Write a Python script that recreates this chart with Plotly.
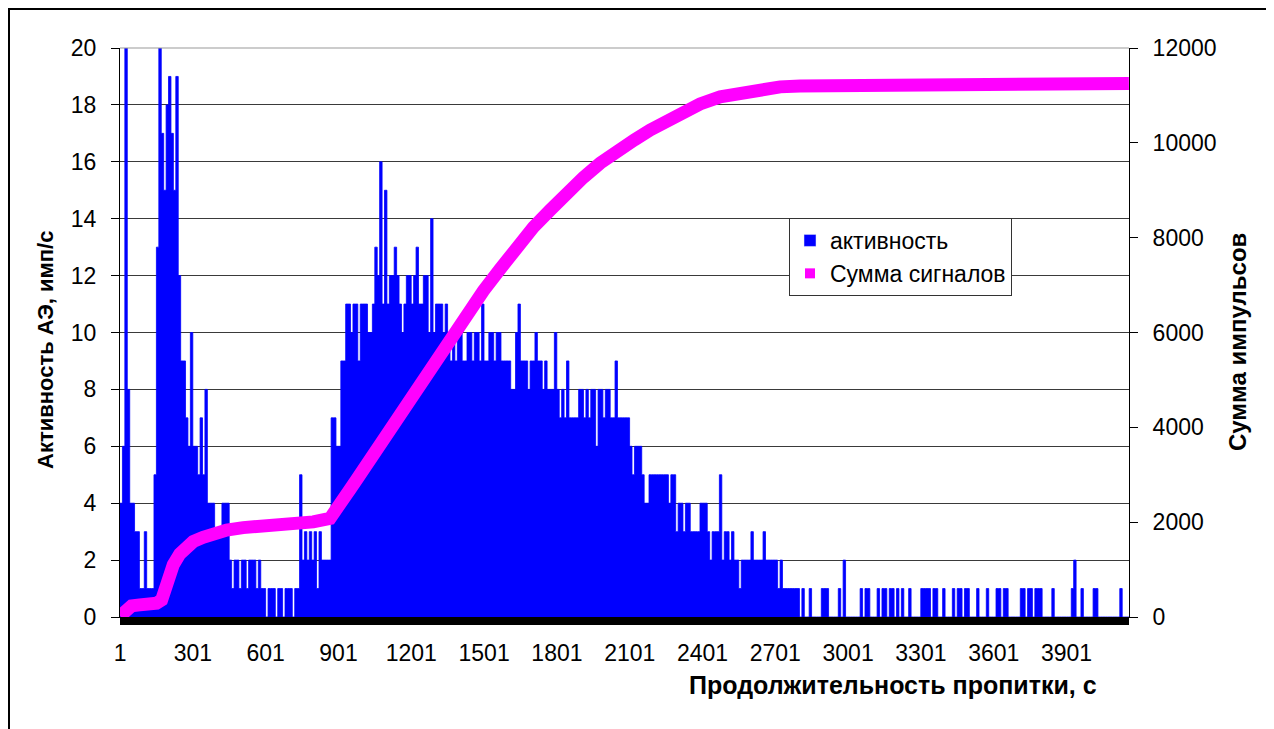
import plotly.graph_objects as go

# ---------------- data ----------------
# Activity (impulses per second): maximum value inside each 10-second bin,
# bins start at t = 1, 11, 21, ... (20 bins = 200 s per row)
activity_max = [
    4, 6, 20, 8, 4, 4, 3, 3, 1, 1, 3, 1, 1, 1, 5, 13, 20, 17, 15, 18,
    19, 17, 15, 19, 12, 9, 9, 7, 6, 10, 6, 6, 5, 7, 5, 8, 4, 4, 4, 3,
    3, 3, 4, 4, 4, 2, 1, 2, 2, 1, 2, 2, 1, 2, 2, 2, 1, 2, 1, 1,
    0, 1, 1, 1, 0, 1, 1, 0, 1, 1, 1, 0, 1, 1, 5, 2, 3, 2, 3, 2,
    3, 1, 3, 2, 2, 2, 2, 7, 7, 6, 6, 9, 9, 11, 11, 10, 11, 11, 9, 11,
    11, 11, 10, 10, 11, 13, 12, 16, 11, 15, 11, 12, 12, 13, 12, 11, 10, 11, 12, 12,
    11, 12, 13, 11, 11, 12, 12, 10, 14, 10, 11, 11, 11, 10, 11, 10, 9, 10, 9, 10,
    10, 9, 9, 10, 10, 9, 10, 10, 9, 11, 9, 9, 10, 10, 9, 10, 10, 9, 9, 9,
    9, 8, 8, 10, 11, 9, 9, 9, 8, 9, 9, 10, 9, 9, 8, 9, 8, 8, 8, 10,
    8, 7, 8, 7, 9, 7, 7, 7, 7, 8, 8, 7, 8, 7, 8, 8, 6, 8, 8, 7,
    8, 8, 7, 7, 9, 7, 7, 7, 7, 7, 6, 5, 6, 6, 6, 5, 4, 4, 5, 5,
    5, 5, 5, 5, 5, 5, 4, 5, 5, 3, 4, 4, 3, 4, 4, 3, 3, 3, 3, 4,
    4, 4, 3, 2, 3, 3, 3, 5, 2, 3, 3, 2, 3, 2, 2, 1, 2, 2, 2, 2,
    3, 2, 2, 2, 2, 3, 2, 2, 2, 2, 2, 1, 2, 1, 1, 1, 1, 1, 1, 1,
    0, 1, 0, 0, 1, 0, 0, 0, 0, 1, 1, 1, 0, 0, 0, 0, 1, 0, 2, 0,
    0, 0, 0, 0, 0, 1, 0, 1, 1, 0, 0, 0, 1, 0, 1, 1, 0, 1, 1, 0,
    1, 0, 1, 0, 0, 1, 0, 0, 0, 0, 1, 1, 1, 1, 0, 1, 1, 0, 0, 1,
    0, 0, 0, 1, 0, 1, 1, 0, 1, 1, 0, 0, 0, 1, 0, 0, 0, 1, 0, 0,
    0, 1, 1, 0, 1, 1, 0, 0, 0, 0, 0, 1, 1, 0, 1, 1, 0, 1, 1, 1,
    0, 0, 0, 0, 1, 0, 0, 0, 0, 0, 0, 0, 1, 2, 0, 0, 1, 0, 0, 0,
    0, 1, 1, 0, 0, 0, 0, 0, 0, 0, 0, 0, 1, 0, 0, 0,
]
bin_size = 10

# Cumulative sum of signals (time s, count)
cum_time = [1, 14, 34, 48, 82, 137, 151, 172, 192, 220, 247, 275, 302, 343,
            385, 440, 508, 577, 714, 797, 866, 893, 921, 948, 976, 1017,
            1086, 1155, 1223, 1292, 1361, 1430, 1498, 1567, 1636, 1704,
            1773, 1842, 1910, 1979, 2048, 2120, 2185, 2250, 2309, 2391,
            2474, 2597, 2721, 2803, 3000, 3216, 3340, 3700, 4158]
cum_sum = [20, 80, 180, 235, 255, 265, 290, 360, 710, 1100, 1330, 1480,
           1590, 1680, 1765, 1835, 1885, 1900, 1930, 2005, 2080, 2250,
           2460, 2690, 2900, 3215, 3750, 4220, 4710, 5280, 5840, 6420,
           6880, 7340, 7810, 8220, 8580, 8955, 9270, 9570, 9850, 10060,
           10270, 10460, 10630, 10820, 10970, 11090, 11180, 11200, 11210,
           11220, 11240, 11245, 11250]

x_tick_vals = [1, 301, 601, 901, 1201, 1501, 1801, 2101, 2401, 2701,
               3001, 3301, 3601, 3901]
x_tick_text = [str(v) for v in x_tick_vals]
n_seconds = 4158

# step-area geometry for the activity columns (bin edges)
bin_edges = [bin_size * i + 0.5 for i in range(len(activity_max) + 1)]
step_values = activity_max + [activity_max[-1]]

# ---------------- figure ----------------
OFF = 8                              # page body margin of the html page
W, H = 1274 - OFF, 729 - OFF
L, R, T, B = 120, 1129, 48, 617      # plot area in page pixels


def px(xp):
    return (xp - L) / (R - L)


def py(yp):
    return (B - yp) / (B - T)


FONT = "Liberation Sans, Arial, sans-serif"
BLUE = "#0000FF"
MAGENTA = "#FF00FF"

fig = go.Figure()
# activity columns (drawn as a seamless stepped fill)
fig.add_trace(go.Scatter(
    x=bin_edges, y=step_values, mode="lines", line_shape="hv",
    line=dict(color=BLUE, width=0.8), fill="tozeroy", fillcolor=BLUE,
    name="активность", showlegend=False, hoverinfo="skip",
))
# legend entry for the columns
fig.add_trace(go.Bar(
    x=[None], y=[None], marker=dict(color=BLUE),
    name="активность", showlegend=True, legendgroup="a",
))
fig.add_trace(go.Scatter(
    x=cum_time, y=cum_sum, yaxis="y2", mode="lines",
    line=dict(color=MAGENTA, width=13),
    name="Сумма сигналов", showlegend=False, cliponaxis=False,
))
fig.add_trace(go.Scatter(
    x=[None], y=[None], yaxis="y2", mode="markers",
    marker=dict(symbol="square", size=10, color=MAGENTA),
    name="Сумма сигналов", showlegend=True, legendgroup="b",
))

fig.update_layout(
    width=W, height=H,
    margin=dict(l=L - OFF, r=W - (R - OFF), t=T - OFF, b=H - (B - OFF)),
    paper_bgcolor="white", plot_bgcolor="white",
    font=dict(family=FONT, size=23, color="black"),
    showlegend=True,
    legend=dict(
        x=px(789), y=py(218), xanchor="left", yanchor="top",
        bgcolor="white", bordercolor="#333333", borderwidth=1,
        font=dict(family=FONT, size=23, color="black"),
        traceorder="normal", itemclick=False, itemwidth=30,
        tracegroupgap=4,
    ),
    xaxis=dict(
        range=[0.5, n_seconds + 0.5], tickmode="array",
        tickvals=x_tick_vals, ticktext=x_tick_text,
        showgrid=False, zeroline=False, showline=True,
        linecolor="black", linewidth=1, ticks="",
        ticklabelstandoff=15,
        tickfont=dict(family=FONT, size=23, color="black"),
    ),
    yaxis=dict(
        range=[0, 20], dtick=2, tick0=0,
        showgrid=True, gridcolor="#3a3a3a", gridwidth=1,
        zeroline=False, showline=True, linecolor="black", linewidth=1,
        ticks="outside", ticklen=8, tickcolor="black",
        ticklabelstandoff=10,
        tickfont=dict(family=FONT, size=23, color="black"),
    ),
    yaxis2=dict(
        range=[0, 12000], dtick=2000, tick0=0, overlaying="y", side="right",
        tickformat="d",
        showgrid=False, zeroline=False, showline=True,
        linecolor="black", linewidth=1,
        ticks="outside", ticklen=8, tickcolor="black",
        ticklabelstandoff=10,
        tickfont=dict(family=FONT, size=23, color="black"),
    ),
    shapes=[
        # plot-area top border (gray)
        dict(type="line", xref="paper", yref="paper", x0=0, x1=1, y0=1, y1=1,
             line=dict(color="#999999", width=1)),
        # dense category tick marks under the x axis
        dict(type="rect", xref="paper", yref="paper", x0=0, x1=1,
             y0=py(625), y1=0, fillcolor="black", line=dict(width=0),
             layer="above"),
        # outer chart frame (top and left)
        dict(type="line", xref="paper", yref="paper",
             x0=px(8), x1=px(1280), y0=py(9), y1=py(9),
             line=dict(color="black", width=2)),
        dict(type="line", xref="paper", yref="paper",
             x0=px(9), x1=px(9), y0=py(9), y1=py(740),
             line=dict(color="black", width=2)),
    ],
    annotations=[
        dict(text="<b>Активность АЭ, имп/с</b>", xref="paper", yref="paper",
             x=px(46), y=py(350), textangle=-90, showarrow=False,
             xanchor="center", yanchor="middle",
             font=dict(family=FONT, size=22, color="black")),
        dict(text="<b>Сумма импульсов</b>", xref="paper", yref="paper",
             x=px(1237), y=py(342), textangle=-90, showarrow=False,
             xanchor="center", yanchor="middle",
             font=dict(family=FONT, size=24, color="black")),
        dict(text="<b>Продолжительность пропитки, с</b>", xref="paper",
             yref="paper", x=px(893), y=py(685), showarrow=False,
             xanchor="center", yanchor="middle",
             font=dict(family=FONT, size=25, color="black")),
    ],
)

fig.write_html("out.html")
